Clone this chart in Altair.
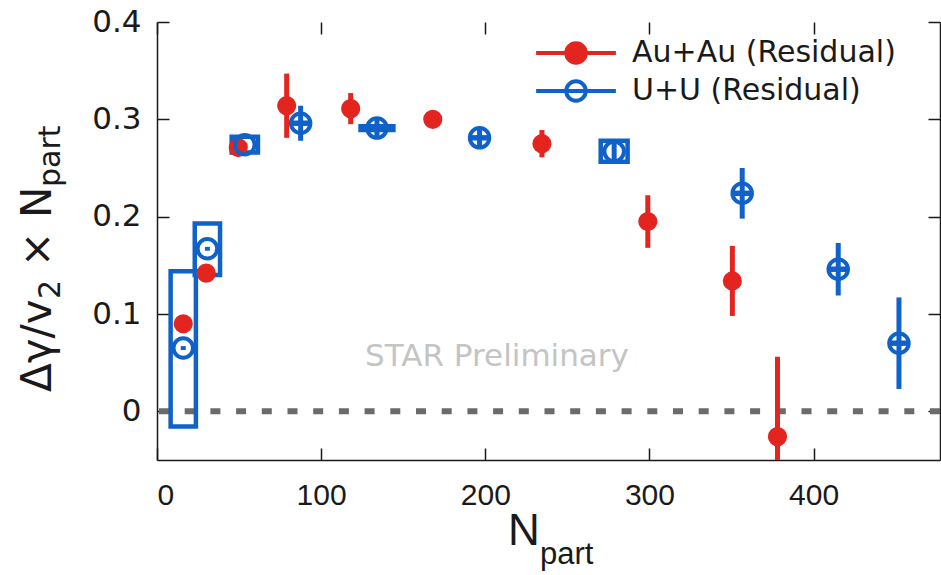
import altair as alt
import pandas as pd

# Au+Au residual: N_part, value, statistical error
au_npart = [16, 30, 49.5, 79, 118, 168, 234.5, 299, 350.5, 378]
au_value = [0.090, 0.142, 0.271, 0.314, 0.311, 0.300, 0.275, 0.195, 0.134, -0.026]
au_stat = [0.003, 0.003, 0.003, 0.033, 0.016, 0.004, 0.014, 0.027, 0.036, 0.082]

# U+U residual: N_part, value, statistical error, systematic band
uu_npart = [16, 30.7, 53.5, 87.5, 134, 196.5, 278.5, 356.5, 415, 452]
uu_value = [0.065, 0.167, 0.274, 0.296, 0.291, 0.281, 0.267, 0.224, 0.146, 0.070]
uu_stat = [0.002, 0.002, 0.002, 0.018, 0.011, 0.011, 0.011, 0.026, 0.027, 0.047]
uu_sys_low = [-0.0155, 0.140, 0.266, 0.2955, 0.289, 0.2805, 0.2565, 0.2235, 0.1455, 0.0695]
uu_sys_high = [0.144, 0.193, 0.282, 0.2965, 0.293, 0.2815, 0.278, 0.2245, 0.1465, 0.0705]
uu_sys_halfwidth = [7.7, 7.7, 8, 4.5, 10, 4.5, 8.2, 4.5, 4.5, 4.5]

x_ticks = [0, 100, 200, 300, 400]
y_ticks = [0, 0.1, 0.2, 0.3, 0.4]
series_names = ["Au+Au (Residual)", "U+U (Residual)"]

W, H = 783, 438
FONT = "DejaVu Sans"
SANS = "Liberation Sans"
INK = "#1a1a1a"
RED = "#e3241f"
BLUE = "#1062c8"

au = pd.DataFrame({"npart": au_npart, "value": au_value, "stat": au_stat})
au["lo"] = au["value"] - au["stat"]
au["hi"] = au["value"] + au["stat"]
au["series"] = series_names[0]

uu = pd.DataFrame({"npart": uu_npart, "value": uu_value, "stat": uu_stat,
                   "sys_lo": uu_sys_low, "sys_hi": uu_sys_high, "dx": uu_sys_halfwidth})
uu["lo"] = uu["value"] - uu["stat"]
uu["hi"] = uu["value"] + uu["stat"]
uu["x1"] = uu["npart"] - uu["dx"]
uu["x2"] = uu["npart"] + uu["dx"]
uu["series"] = series_names[1]

xs = alt.Scale(domain=[0, 477], nice=False, zero=False)
ys = alt.Scale(domain=[-0.05, 0.4], nice=False, zero=False)


def X(field, axis=None):
    return alt.X(field, type="quantitative", scale=xs, axis=axis)


def Y(field, axis=None):
    return alt.Y(field, type="quantitative", scale=ys, axis=axis)


# inward tick marks on all four sides, labels only bottom/left
tick_only = dict(labels=False, grid=False, title=None, ticks=True,
                 tickSize=12, tickWidth=1.5, tickColor=INK)
x_axis_labels = alt.Axis(orient="bottom", values=x_ticks, ticks=False, tickSize=0,
                         grid=False, title=None, domain=True, domainColor=INK,
                         domainWidth=1.5, labelFont=SANS, labelFontSize=30,
                         labelColor=INK, labelPadding=20, format="d")
y_axis_labels = alt.Axis(orient="left", values=y_ticks, ticks=False, tickSize=0,
                         grid=False, title=None, domain=True, domainColor=INK,
                         domainWidth=1.5, labelFont=FONT, labelFontSize=31,
                         labelColor=INK, labelPadding=16,
                         labelExpr="datum.value == 0 ? '0' : format(datum.value, '.1f')")
x_axis_in_bottom = alt.Axis(orient="top", offset=-H, values=x_ticks, domain=False, **tick_only)
x_axis_in_top = alt.Axis(orient="bottom", offset=-H, values=x_ticks, domain=False, **tick_only)
y_axis_in_left = alt.Axis(orient="right", offset=-W, values=y_ticks, domain=False, **tick_only)
y_axis_in_right = alt.Axis(orient="left", offset=-W, values=y_ticks, domain=True,
                           domainColor=INK, domainWidth=1.5, **tick_only)


def frame(xa, ya):
    return alt.Chart(au).mark_point(opacity=0).encode(x=X("npart", xa), y=Y("value", ya))


frames = [
    frame(x_axis_labels, y_axis_labels),
    frame(x_axis_in_bottom, y_axis_in_left),
    frame(x_axis_in_top, y_axis_in_right),
]

zero_line = alt.Chart(pd.DataFrame({"zero": [0.0]})).mark_rule(
    color="#6b6b6b", strokeWidth=6, strokeDash=[10, 15.7]
).encode(y=Y("zero"))

au_err = alt.Chart(au).mark_rule(color=RED, strokeWidth=5, clip=True).encode(
    x=X("npart"), y=Y("lo"), y2="hi")

uu_sys = alt.Chart(uu).mark_rect(fillOpacity=0, stroke=BLUE, strokeWidth=4.5).encode(
    x=X("x1"), x2="x2", y=Y("sys_lo"), y2="sys_hi")

uu_err = alt.Chart(uu).mark_rule(color=BLUE, strokeWidth=5, clip=True).encode(
    x=X("npart"), y=Y("lo"), y2="hi")

# legend glyph: a line segment through the marker circle
LEGEND_PATH = ("M -3.35 0 L 3.35 0 M 0.82 0 A 0.82 0.82 0 1 1 -0.82 0 "
               "A 0.82 0.82 0 1 1 0.82 0 Z")
legend = alt.Legend(title=None, orient="none", legendX=404, legendY=16,
                    symbolType=LEGEND_PATH, symbolSize=567, symbolStrokeWidth=4,
                    labelFont=FONT, labelFontSize=30, labelColor=INK, labelLimit=0,
                    labelOffset=41, rowPadding=2, padding=0, direction="vertical")

stroke_enc = alt.Stroke("series:N", scale=alt.Scale(domain=series_names, range=[RED, BLUE]),
                        legend=legend)
fill_enc = alt.Fill("series:N", scale=alt.Scale(domain=series_names, range=[RED, "#ffffff00"]),
                    legend=legend)

au_pts = alt.Chart(au).mark_point(shape="circle", size=230, strokeWidth=4, opacity=1).encode(
    x=X("npart"), y=Y("value"), stroke=stroke_enc, fill=fill_enc)
uu_pts = alt.Chart(uu).mark_point(shape="circle", size=380, strokeWidth=4, opacity=1).encode(
    x=X("npart"), y=Y("value"), stroke=stroke_enc, fill=fill_enc)

one = pd.DataFrame({"k": [0]})
watermark = alt.Chart(one).mark_text(
    text="STAR Preliminary", x=340, y=344, align="center", baseline="alphabetic",
    font=FONT, fontSize=31, color="#c4c4c4")

x_title_main = alt.Chart(one).mark_text(
    text="N", x=351, y=523, align="left", baseline="alphabetic",
    font=SANS, fontSize=44, color=INK)
x_title_sub = alt.Chart(one).mark_text(
    text="part", x=383, y=542, align="left", baseline="alphabetic",
    font=SANS, fontSize=31, color=INK)

# rotated y title assembled from main-size and subscript pieces
y_title_parts = [
    ("Δγ/v", 42, -106, 370),
    ("2", 30, -97, 277),
    ("×", 42, -106, 245),
    ("N", 42, -106, 196),
    ("part", 30, -97, 165),
]
y_title = [
    alt.Chart(one).mark_text(text=t, x=px, y=py, angle=270, align="left",
                             baseline="alphabetic", font=FONT, fontSize=fs, color=INK)
    for t, fs, px, py in y_title_parts
]

chart = alt.layer(
    *frames, zero_line, au_err, uu_sys, uu_err, au_pts, uu_pts, watermark,
    x_title_main, x_title_sub, *y_title
).resolve_axis(
    x="independent", y="independent"
).properties(
    width=W, height=H,
    autosize=alt.AutoSizeParams(type="none"),
    padding={"left": 157, "top": 22, "right": 1, "bottom": 115},
    background="white",
).configure_view(stroke=None)

chart.save("out.html", embed_options={"renderer": "svg", "actions": False})
